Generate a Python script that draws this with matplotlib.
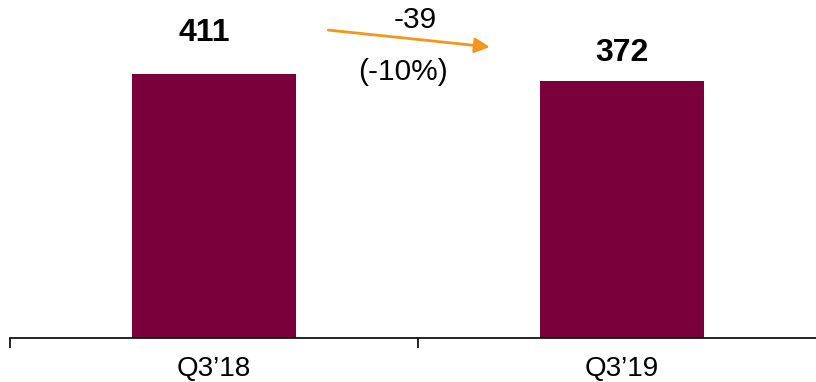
import numpy as np
import matplotlib
matplotlib.use("Agg")
import matplotlib.pyplot as plt

plt.rcParams['font.family'] = ['Liberation Sans', 'DejaVu Sans']

# data
quarters = ["Q3\u201918", "Q3\u201919"]
values = [411, 372]
change_abs = "-39"
change_pct = "(-10%)"

bar_col = "#7A003C"
arrow_col = "#F7941D"

# the source chart does not start at zero; use a floor so the bar heights look alike
y_floor = -1060
px_per_unit = 7 / 39

W, H = 816, 382
fig = plt.figure(figsize=(W / 100, H / 100), dpi=100)
base_px = 338  # baseline, pixels from top
ax = fig.add_axes([10 / W, (H - base_px) / H, 816 / W, base_px / H])

x = np.arange(len(values))
heights = [v - y_floor for v in values]
ax.bar(x, heights, bottom=y_floor, width=0.4, color=bar_col)
ax.set_xlim(-0.5, 1.5)
ax.set_ylim(y_floor, y_floor + base_px / px_per_unit)

# value labels
lab_off = [(-10, 41), (0, 28)]  # pixels from bar top centre
for xi, v, off in zip(x, values, lab_off):
    ax.annotate(str(v), (xi, v), xytext=off, textcoords='offset pixels',
                ha='center', va='center', fontsize=23, fontweight='bold')

# axis styling
for s in ['top', 'right', 'left']:
    ax.spines[s].set_visible(False)
ax.spines['bottom'].set_linewidth(1.2)
ax.set_yticks([])
ax.set_xticks(x)
ax.set_xticklabels(quarters, fontsize=20)
ax.set_xticks([-0.5, 0.5, 1.5], minor=True)
ax.tick_params(axis='x', which='major', length=0, pad=13)
ax.tick_params(axis='x', which='minor', length=7, width=1.2, direction='out')

# change arrow and text
ax.annotate("", xy=(0.588, 0.861), xytext=(0.39, 0.911), xycoords='axes fraction',
            arrowprops=dict(arrowstyle='-|>,head_length=0.9,head_width=0.45',
                            color=arrow_col, lw=2, shrinkA=0, shrinkB=0))
ax.text(0.496, 0.94, change_abs, transform=ax.transAxes, ha='center', va='center',
        fontsize=21.5)
ax.text(0.482, 0.787, change_pct, transform=ax.transAxes, ha='center', va='center',
        fontsize=21.5)

fig.savefig("out.png", dpi=100)
